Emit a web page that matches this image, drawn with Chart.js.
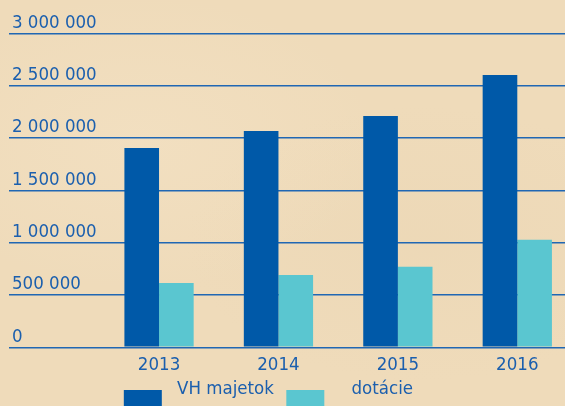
<!DOCTYPE html>
<html lang="sk">
<head>
<meta charset="utf-8">
<title>VH majetok a dotácie</title>
<script src="https://cdn.jsdelivr.net/npm/chart.js@4.4.1/dist/chart.umd.min.js"></script>
<style>
    html, body {
        margin: 0;
        padding: 0;
        width: 565px;
        height: 406px;
        overflow: hidden;
        background-color: #efdbba;
        background-image:
            radial-gradient(ellipse at 25% 35%, rgba(250, 235, 210, 0.25), rgba(250, 235, 210, 0) 40%),
            radial-gradient(ellipse at 75% 60%, rgba(228, 206, 170, 0.2), rgba(228, 206, 170, 0) 40%);
    }
    #wrap {
        position: absolute;
        left: 0;
        top: 0;
        width: 577px;
        height: 410px;
    }
</style>
</head>
<body>
<div id="wrap"><canvas id="majetokChart"></canvas></div>
<script>
const years = ['2013', '2014', '2015', '2016'];
const vhMajetok = [1905000, 2067000, 2210000, 2602000];
const dotacie = [614000, 691000, 770000, 1028000];
const yTicks = [0, 500000, 1000000, 1500000, 2000000, 2500000, 3000000];

const FONT = "'Liberation Sans Narrow', 'DejaVu Sans Condensed', sans-serif";
const FONT_SIZE = 18.5;
const TEXT_BLUE = '#1b5fae';
const DARK_BLUE = '#0059a8';
const CYAN = '#5ac6d0';
const GRID_BLUE = '#2067b3';

// legend swatch: a block sitting a bit below the text line
function swatch(color, offsetX) {
    const c = document.createElement('canvas');
    c.width = 64;
    c.height = 44;
    const g = c.getContext('2d');
    g.fillStyle = color;
    g.fillRect(offsetX, 23, 38, 21);
    return c;
}

function spaced(v) {
    return String(v).replace(/\B(?=(\d{3})+(?!\d))/g, ' ');
}

document.addEventListener('DOMContentLoaded', function() {
    const ctx = document.getElementById('majetokChart').getContext('2d');
    const swatches = [swatch(DARK_BLUE, 20), swatch(CYAN, 8)];

    new Chart(ctx, {
        type: 'bar',
        data: {
            labels: years,
            datasets: [{
                label: 'VH majetok',
                data: vhMajetok,
                backgroundColor: DARK_BLUE,
            }, {
                label: 'dotácie',
                data: dotacie,
                backgroundColor: CYAN,
            }]
        },
        options: {
            responsive: true,
            maintainAspectRatio: false,
            animation: false,
            datasets: {
                bar: {
                    barPercentage: 1,
                    categoryPercentage: 0.58
                }
            },
            layout: {
                padding: { top: 33.3, left: 12, right: 0, bottom: 1.75 }
            },
            scales: {
                x: {
                    grid: { display: false, drawTicks: false },
                    border: { display: false },
                    ticks: {
                        color: TEXT_BLUE,
                        font: { family: FONT, size: FONT_SIZE, lineHeight: 1 },
                        padding: 8.45
                    },
                    afterFit: function(scale) {
                        scale.height = 28;
                    }
                },
                y: {
                    min: 0,
                    max: 3000000,
                    afterBuildTicks: function(scale) {
                        scale.ticks = yTicks.map(v => ({ value: v }));
                    },
                    border: { display: false },
                    grid: {
                        color: GRID_BLUE,
                        lineWidth: 1.4,
                        tickLength: 90.33
                    },
                    ticks: {
                        color: TEXT_BLUE,
                        font: { family: FONT, size: FONT_SIZE },
                        crossAlign: 'far',
                        labelOffset: -10.5,
                        callback: function(value) {
                            return spaced(value);
                        }
                    },
                    afterFit: function(scale) {
                        scale.width = 87.33;
                    }
                }
            },
            plugins: {
                tooltip: { enabled: false },
                legend: {
                    position: 'bottom',
                    align: 'start',
                    fullSize: false,
                    labels: {
                        color: TEXT_BLUE,
                        font: { family: FONT, size: FONT_SIZE },
                        usePointStyle: true,
                        pointStyleWidth: 64,
                        padding: 4.45,
                        generateLabels: function(chart) {
                            const items = Chart.defaults.plugins.legend.labels.generateLabels(chart);
                            items.forEach((item, i) => {
                                item.pointStyle = swatches[i];
                            });
                            return items;
                        }
                    }
                }
            }
        }
    });
});
</script>
</body>
</html>
